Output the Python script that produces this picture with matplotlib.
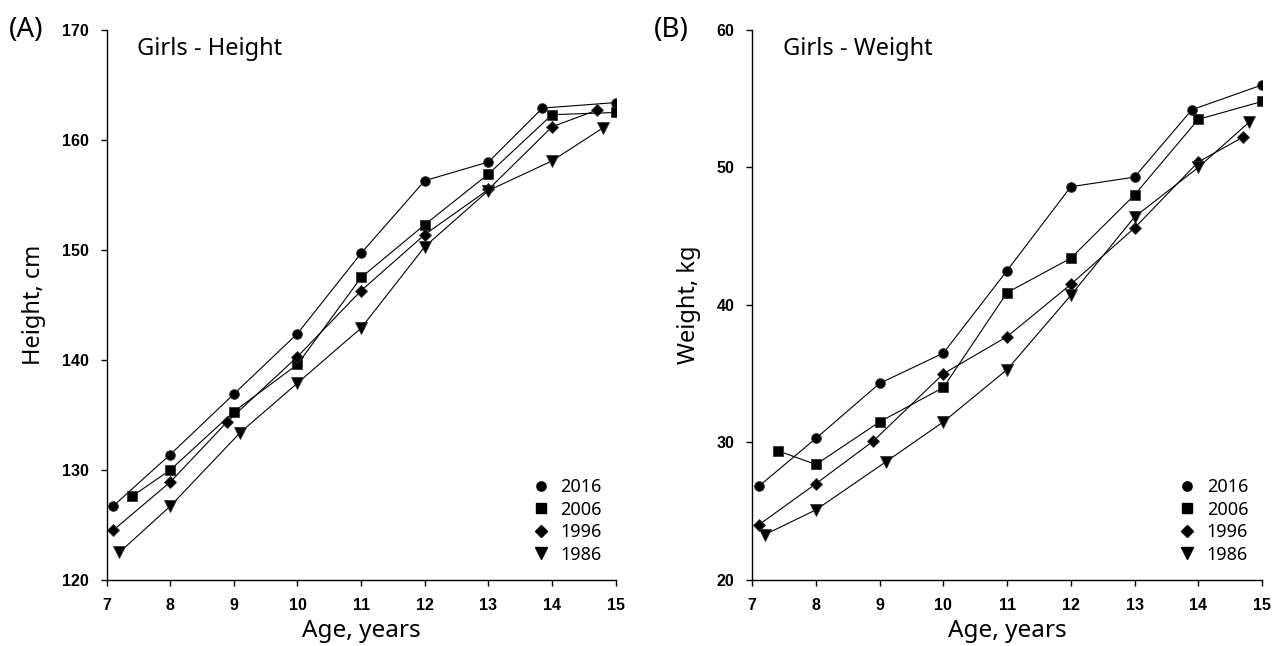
import numpy as np
import matplotlib
matplotlib.use('Agg')
import matplotlib.pyplot as plt
from matplotlib.lines import Line2D

years = ['2016', '2006', '1996', '1986']
markers = ['o', 's', 'D', 'v']
msizes = [7, 7, 6, 9]

# --- Height (cm) ---
h_age = {
    '2016': [7.1, 8.0, 9.0, 10.0, 11.0, 12.0, 13.0, 13.85, 15.0],
    '2006': [7.4, 8.0, 9.0, 10.0, 11.0, 12.0, 13.0, 14.0, 15.0],
    '1996': [7.1, 8.0, 8.9, 10.0, 11.0, 12.0, 13.0, 14.0, 14.7],
    '1986': [7.2, 8.0, 9.1, 10.0, 11.0, 12.0, 13.0, 14.0, 14.8],
}
h_val = {
    '2016': [126.7, 131.4, 136.9, 142.4, 149.7, 156.3, 158.0, 162.9, 163.4],
    '2006': [127.6, 130.0, 135.3, 139.6, 147.5, 152.3, 156.9, 162.3, 162.5],
    '1996': [124.5, 128.9, 134.4, 140.3, 146.3, 151.4, 155.5, 161.2, 162.7],
    '1986': [122.5, 126.7, 133.4, 137.9, 142.9, 150.3, 155.4, 158.1, 161.1],
}

# --- Weight (kg) ---
w_age = {
    '2016': [7.1, 8.0, 9.0, 10.0, 11.0, 12.0, 13.0, 13.9, 15.0],
    '2006': [7.4, 8.0, 9.0, 10.0, 11.0, 12.0, 13.0, 14.0, 15.0],
    '1996': [7.1, 8.0, 8.9, 10.0, 11.0, 12.0, 13.0, 14.0, 14.7],
    '1986': [7.2, 8.0, 9.1, 10.0, 11.0, 12.0, 13.0, 14.0, 14.8],
}
w_val = {
    '2016': [26.8, 30.3, 34.3, 36.5, 42.5, 48.6, 49.3, 54.2, 56.0],
    '2006': [29.4, 28.4, 31.5, 34.0, 40.9, 43.4, 48.0, 53.5, 54.8],
    '1996': [24.0, 27.0, 30.1, 35.0, 37.7, 41.5, 45.6, 50.4, 52.2],
    '1986': [23.3, 25.1, 28.6, 31.5, 35.3, 40.7, 46.4, 50.0, 53.3],
}

label_font = ['Noto Sans', 'DejaVu Sans']
tick_font = 'Liberation Sans'

fig = plt.figure(figsize=(12.76, 6.46), dpi=100)
ax1 = fig.add_axes([0.0835, 0.1022, 0.399, 0.8514])
ax2 = fig.add_axes([0.5895, 0.1022, 0.3995, 0.8514])


def draw(ax, ages, vals, ylim, yticks, ylabel, title, panel):
    for yr, m, ms in zip(years, markers, msizes):
        ax.plot(ages[yr], vals[yr], color='black', linewidth=0.8,
                marker=m, markersize=ms, markerfacecolor='black',
                markeredgecolor='#333333', markeredgewidth=0.6)
    ax.set_xlim(7, 15)
    ax.set_ylim(*ylim)
    ax.set_xticks(range(7, 16))
    ax.set_yticks(yticks)
    for s in ['top', 'right']:
        ax.spines[s].set_visible(False)
    for s in ['left', 'bottom']:
        ax.spines[s].set_linewidth(1.0)
    ax.tick_params(direction='out', length=4, width=1, pad=9)
    for lab in ax.get_xticklabels() + ax.get_yticklabels():
        lab.set_family(tick_font)
        lab.set_fontweight('bold')
        lab.set_fontsize(11.5)
    ax.set_xlabel('Age, years', fontsize=17.5, family=label_font, labelpad=4)
    ax.set_ylabel(ylabel, fontsize=17, family=label_font, labelpad=11)
    ax.text(0.06, 0.965, title, transform=ax.transAxes, fontsize=17,
            family=label_font, va='center', ha='left')
    ax.text(-0.192, 1.0, panel, transform=ax.transAxes, fontsize=20,
            family=label_font, va='center', ha='left')
    handles = [Line2D([], [], linestyle='none', marker=m, color='black',
                      markersize=ms * 0.95) for m, ms in zip(markers, msizes)]
    ax.legend(handles, years, loc='lower right', frameon=False,
              prop={'family': label_font, 'size': 13}, handlelength=1.0,
              handletextpad=0.6, labelspacing=0.25,
              bbox_to_anchor=(1.005, 0.0))


draw(ax1, h_age, h_val, (120, 170), range(120, 171, 10), 'Height, cm',
     'Girls - Height', '(A)')
draw(ax2, w_age, w_val, (20, 60), range(20, 61, 10), 'Weight, kg',
     'Girls - Weight', '(B)')

plt.savefig('out.png', dpi=100)
plt.close()
